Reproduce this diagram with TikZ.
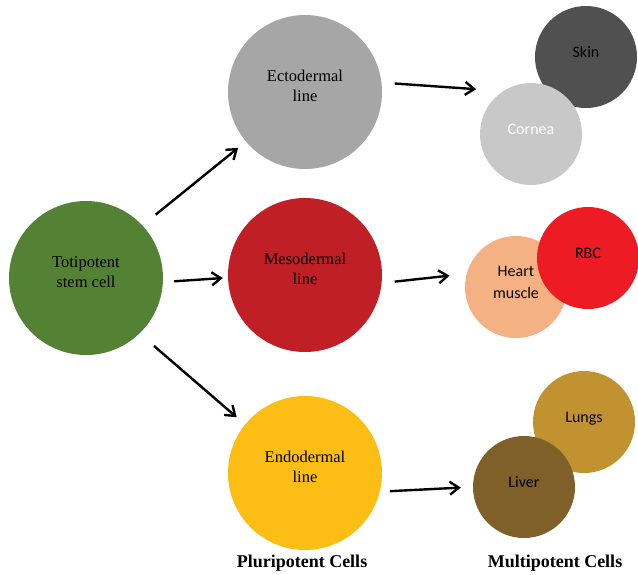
\documentclass[tikz,border=0pt]{standalone}
\usepackage{fontspec}
\setmainfont{Liberation Serif}
\newfontfamily\calibri{Carlito}
\usetikzlibrary{arrows.meta}

\definecolor{totigreen}{RGB}{84,130,53}
\definecolor{ectogray}{RGB}{166,166,166}
\definecolor{mesored}{RGB}{191,31,37}
\definecolor{endoyellow}{RGB}{252,190,20}
\definecolor{skingray}{RGB}{80,80,80}
\definecolor{corneagray}{RGB}{200,200,200}
\definecolor{rbcred}{RGB}{237,28,36}
\definecolor{heartpeach}{RGB}{244,177,131}
\definecolor{lungsgold}{RGB}{192,146,48}
\definecolor{liverbrown}{RGB}{127,96,40}

\begin{document}
\begin{tikzpicture}[x=1pt,y=-1pt,
		germ/.style={circle,fill=#1,minimum size=154pt,inner sep=0pt,align=center,
			text depth=12pt,font=\fontsize{16.5}{20}\selectfont},
		tissue/.style={circle,fill=#1,minimum size=102pt,inner sep=0pt,align=center,
			text depth=10pt,font=\calibri\fontsize{16}{22}\selectfont},
		arr/.style={-{Straight Barb[length=9pt,width=13pt]},line width=2.4pt},
		caption/.style={anchor=base,font=\bfseries\fontsize{18}{20}\selectfont},
]

\useasboundingbox (0,0) rectangle (638,574);

% stem cell and the three germ lines
\node [germ=totigreen] (toti) at (86,278) {Totipotent\\stem cell};
\node [germ=ectogray] (ecto) at (305,92) {Ectodermal\\line};
\node [germ=mesored] (meso) at (305,275) {Mesodermal\\line};
\node [germ=endoyellow] (endo) at (305,473) {Endodermal\\line};

% differentiated tissues
\node [tissue=skingray] (skin) at (586,57) {Skin};
\node [tissue=corneagray,text=white] (cornea) at (531,134) {Cornea};
\node [tissue=heartpeach] (heart) at (516,287) {Heart\\muscle};
\node [tissue=rbcred] (rbc) at (588,258) {RBC};
\node [tissue=lungsgold] (lungs) at (584,422) {Lungs};
\node [tissue=liverbrown] (liver) at (524,487) {Liver};

\draw [arr,shorten <=17pt,shorten >=10pt] (toti.43) -- (ecto.220);
\draw [arr,shorten <=11pt,shorten >=5pt] (toti.-3) -- (meso.182);
\draw [arr,shorten <=19pt,shorten >=11pt] (toti.-46) -- (endo.141);

\draw [arr,shorten <=13pt,shorten >=27pt] (ecto.7) -- (cornea.123);
\draw [arr,shorten <=13pt,shorten >=17pt] (meso.-6) -- (heart.165);
\draw [arr,shorten <=10pt,shorten >=12pt] (endo.-14) -- (liver.180);

\node [caption] (pluri) at (302,567) {Pluripotent Cells};
\node [caption] (multi) at (555,567) {Multipotent Cells};

\end{tikzpicture}
\end{document}
